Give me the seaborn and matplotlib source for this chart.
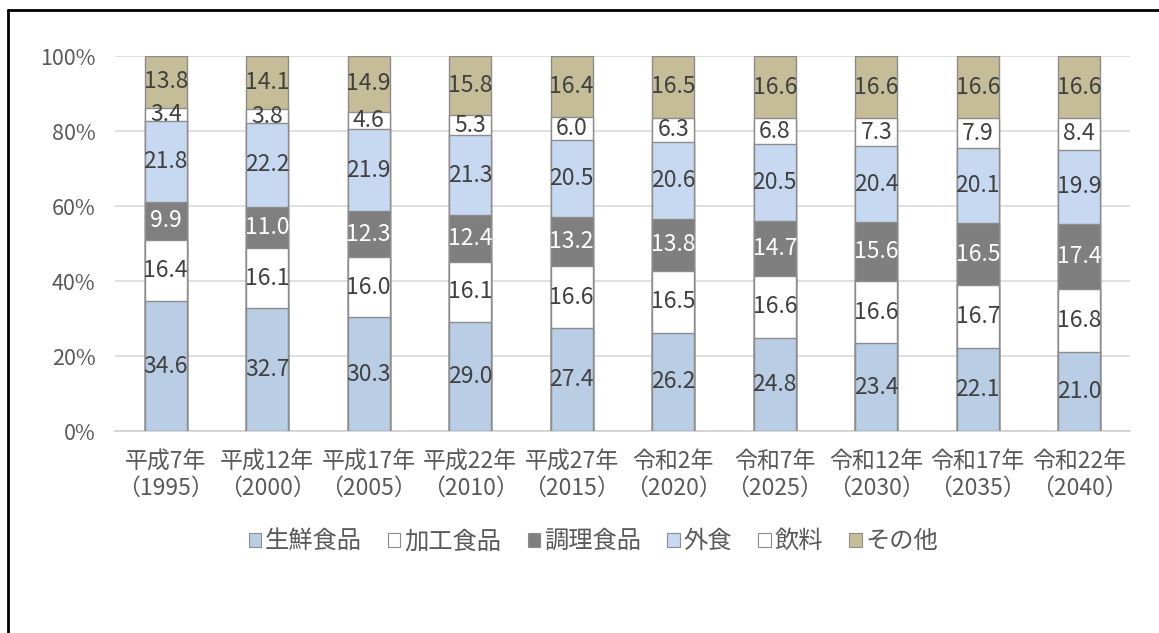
import numpy as np
import pandas as pd
import matplotlib
matplotlib.use("Agg")
import matplotlib.pyplot as plt
import seaborn as sns
from matplotlib.patches import Patch
from matplotlib.lines import Line2D

categories = ["平成7年\n（1995）", "平成12年\n（2000）", "平成17年\n（2005）", "平成22年\n（2010）",
              "平成27年\n（2015）", "令和2年\n（2020）", "令和7年\n（2025）", "令和12年\n（2030）",
              "令和17年\n（2035）", "令和22年\n（2040）"]
series_names = ["生鮮食品", "加工食品", "調理食品", "外食", "飲料", "その他"]
fresh = [34.6, 32.7, 30.3, 29.0, 27.4, 26.2, 24.8, 23.4, 22.1, 21.0]
processed = [16.4, 16.1, 16.0, 16.1, 16.6, 16.5, 16.6, 16.6, 16.7, 16.8]
cooked = [9.9, 11.0, 12.3, 12.4, 13.2, 13.8, 14.7, 15.6, 16.5, 17.4]
eating_out = [21.8, 22.2, 21.9, 21.3, 20.5, 20.6, 20.5, 20.4, 20.1, 19.9]
drinks = [3.4, 3.8, 4.6, 5.3, 6.0, 6.3, 6.8, 7.3, 7.9, 8.4]
other = [13.8, 14.1, 14.9, 15.8, 16.4, 16.5, 16.6, 16.6, 16.6, 16.6]
y_ticks = [0, 20, 40, 60, 80, 100]
y_tick_labels = ["0%", "20%", "40%", "60%", "80%", "100%"]

colors = ["#b9cde5", "#ffffff", "#7f7f7f", "#c6d9f1", "#ffffff", "#c4bd97"]
label_colors = ["#404040", "#404040", "#ffffff", "#404040", "#404040", "#404040"]

sns.set_theme(style="white")
plt.rcParams["font.family"] = ["Noto Sans CJK JP", "DejaVu Sans"]

vals = np.array([fresh, processed, cooked, eating_out, drinks, other], dtype=float)
shares = vals / vals.sum(axis=0) * 100
cum = np.cumsum(shares, axis=0)

fig = plt.figure(figsize=(11.59, 6.33), dpi=100)
ax = fig.add_axes([0.0992, 0.3191, 0.8758, 0.5924])

# draw cumulative bars back to front
for i in reversed(range(len(series_names))):
    df = pd.DataFrame({"cat": categories, "val": cum[i]})
    sns.barplot(data=df, x="cat", y="val", ax=ax, color=colors[i], saturation=1,
                width=0.41, edgecolor="#8c8c8c", linewidth=1.0, zorder=3, errorbar=None)

# data labels
for i in range(len(series_names)):
    for j in range(len(categories)):
        y = cum[i, j] - shares[i, j] / 2
        ax.text(j, y, f"{vals[i, j]:.1f}", ha="center", va="center",
                fontsize=16.5, color=label_colors[i], zorder=5)

ax.set_ylim(0, 100)
ax.set_xlim(-0.5, len(categories) - 0.5)
ax.set_yticks(y_ticks)
ax.set_yticklabels(y_tick_labels)
ax.yaxis.grid(True, color="#d9d9d9", linewidth=1.2, zorder=0)
ax.set_axisbelow(True)
for s in ["left", "right", "top"]:
    ax.spines[s].set_visible(False)
ax.spines["bottom"].set_color("#d0d0d0")
ax.spines["bottom"].set_linewidth(1.2)
ax.set_xlabel("")
ax.set_ylabel("")
ax.tick_params(axis="both", length=0, labelcolor="#595959")
ax.tick_params(axis="y", pad=14, labelsize=15.5)
ax.tick_params(axis="x", pad=14, labelsize=16.5)

handles = [Patch(facecolor=colors[i], edgecolor="#8c8c8c", linewidth=0.8, label=series_names[i])
           for i in range(len(series_names))]
leg = fig.legend(handles=handles, loc="center", bbox_to_anchor=(0.512, 0.145), ncol=6,
                 frameon=False, fontsize=17.5, handlelength=0.5, handleheight=0.5,
                 handletextpad=0.15, columnspacing=1.1)
for t in leg.get_texts():
    t.set_color("#595959")

# outer frame lines
fig.add_artist(Line2D([8 / 1159, 1.0], [1 - 10 / 633, 1 - 10 / 633], color="black", linewidth=2,
                      transform=fig.transFigure))
fig.add_artist(Line2D([8 / 1159, 8 / 1159], [0, 1 - 10 / 633], color="black", linewidth=2,
                      transform=fig.transFigure))

fig.savefig("out.png", dpi=100)
